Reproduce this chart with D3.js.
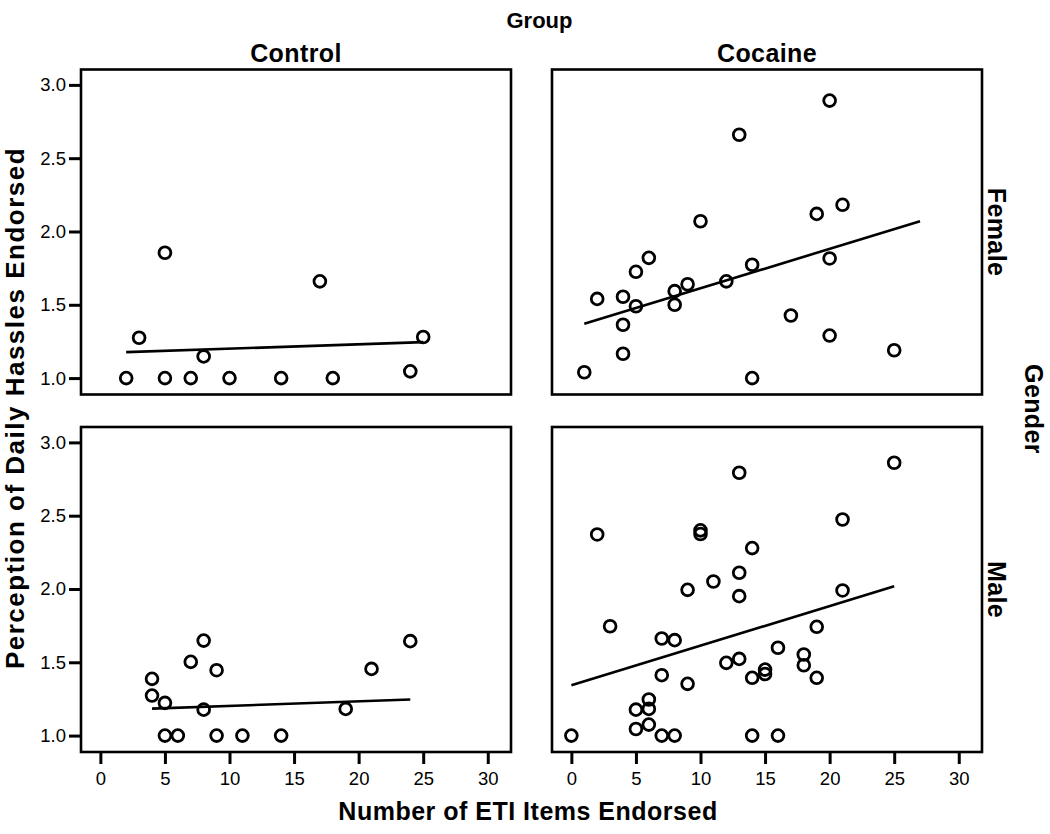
<!DOCTYPE html>
<html>
<head>
<meta charset="utf-8">
<script src="https://cdn.jsdelivr.net/npm/d3@7"></script>
<style>
  html, body { margin: 0; padding: 0; background: #fff; }
  svg { display: block; font-family: "Liberation Sans", Arial, Helvetica, sans-serif; }
  .ttl { font-weight: bold; fill: #000; }
  .tick text { font-size: 18.5px; fill: #000; font-family: "Liberation Sans", Arial, sans-serif; }
  .tick line { stroke: #000; stroke-width: 3; }
</style>
</head>
<body>
<script>
// ---------- data ----------
const groups = ["Control", "Cocaine"];
const genders = ["Female", "Male"];
const xTicks = [0, 5, 10, 15, 20, 25, 30];
const yTicks = [1.0, 1.5, 2.0, 2.5, 3.0];

const ctrlFemaleX = [2, 3, 5, 5, 7, 8, 10, 14, 17, 18, 24, 25];
const ctrlFemaleY = [1.00, 1.275, 1.855, 1.00, 1.00, 1.148, 1.00, 1.00, 1.66, 1.00, 1.046, 1.28];

const cocFemaleX = [1, 2, 4, 4, 4, 5, 5, 6, 8, 8, 9, 10, 12, 13, 14, 14, 17, 19, 20, 20, 20, 21, 25];
const cocFemaleY = [1.04, 1.54, 1.555, 1.364, 1.166, 1.49, 1.725, 1.82, 1.593, 1.50, 1.64, 2.07, 1.66, 2.66, 1.773, 1.00, 1.427, 2.12, 2.893, 1.816, 1.29, 2.182, 1.19];

const ctrlMaleX = [4, 4, 5, 5, 6, 7, 8, 8, 9, 9, 11, 14, 19, 21, 24];
const ctrlMaleY = [1.387, 1.273, 1.223, 1.00, 1.00, 1.503, 1.648, 1.177, 1.446, 1.00, 1.00, 1.00, 1.182, 1.455, 1.644];

const cocMaleX = [0, 2, 3, 5, 5, 6, 6, 6, 7, 7, 7, 8, 8, 9, 9, 10, 10, 11, 12, 13, 13, 13, 13, 14, 14, 14, 15, 15, 16, 16, 18, 18, 19, 19, 21, 21, 25];
const cocMaleY = [1.00, 2.372, 1.746, 1.177, 1.045, 1.246, 1.182, 1.075, 1.662, 1.412, 1.00, 1.651, 1.00, 1.994, 1.353, 2.40, 2.375, 2.051, 1.496, 2.793, 2.111, 1.951, 1.523, 2.279, 1.394, 1.00, 1.45, 1.42, 1.599, 1.00, 1.553, 1.48, 1.742, 1.394, 2.474, 1.99, 2.861];

// fit line end points [x1, y1, x2, y2]
const ctrlFemaleFit = [2, 1.177, 25, 1.245];
const cocFemaleFit = [1, 1.37, 27, 2.07];
const ctrlMaleFit = [4, 1.184, 24, 1.246];
const cocMaleFit = [0, 1.343, 25, 2.019];

// ---------- layout ----------
const W = 1050, H = 834;
const colX = [81, 552];
const rowY = [69.5, 427];
const pw = 430, ph = 325;

const panels = [
  { r: 0, c: 0, xs: ctrlFemaleX, ys: ctrlFemaleY, fit: ctrlFemaleFit },
  { r: 0, c: 1, xs: cocFemaleX, ys: cocFemaleY, fit: cocFemaleFit },
  { r: 1, c: 0, xs: ctrlMaleX, ys: ctrlMaleY, fit: ctrlMaleFit },
  { r: 1, c: 1, xs: cocMaleX, ys: cocMaleY, fit: cocMaleFit }
];

const x = d3.scaleLinear().domain([-1.5, 31.8]).range([0, pw]);
const y = d3.scaleLinear().domain([0.888, 3.105]).range([ph, 0]);

const svg = d3.select("body").append("svg").attr("width", W).attr("height", H);
svg.append("rect").attr("width", W).attr("height", H).attr("fill", "#fff");

panels.forEach(p => {
  const g = svg.append("g").attr("transform", `translate(${colX[p.c]},${rowY[p.r]})`);

  if (p.c === 0) {
    const ax = g.append("g").call(
      d3.axisLeft(y).tickValues(yTicks).tickFormat(d3.format(".1f")).tickSize(12).tickPadding(3)
    );
    ax.select(".domain").remove();
  }
  if (p.r === 1) {
    const ax = g.append("g").attr("transform", `translate(0,${ph})`).call(
      d3.axisBottom(x).tickValues(xTicks).tickFormat(d3.format("d")).tickSize(12).tickPadding(8)
    );
    ax.select(".domain").remove();
  }

  g.append("rect").attr("x", 0).attr("y", 0).attr("width", pw).attr("height", ph)
    .attr("fill", "none").attr("stroke", "#000").attr("stroke-width", 2.6);

  g.append("line")
    .attr("x1", x(p.fit[0])).attr("y1", y(p.fit[1]))
    .attr("x2", x(p.fit[2])).attr("y2", y(p.fit[3]))
    .attr("stroke", "#000").attr("stroke-width", 2.6);

  g.selectAll("circle.pt").data(p.xs.map((v, i) => [v, p.ys[i]])).enter()
    .append("circle").attr("class", "pt")
    .attr("cx", d => x(d[0])).attr("cy", d => y(d[1])).attr("r", 5.9)
    .attr("fill", "none").attr("stroke", "#000").attr("stroke-width", 2.8);
});

// ---------- titles ----------
svg.append("text").attr("class", "ttl").attr("x", 539.5).attr("y", 28)
  .attr("text-anchor", "middle").style("font-size", "22px").text("Group");

groups.forEach((gname, i) => {
  svg.append("text").attr("class", "ttl").attr("x", colX[i] + pw / 2).attr("y", 61.5)
    .attr("text-anchor", "middle").style("font-size", "25px").style("letter-spacing", "0.4px").text(gname);
});

genders.forEach((gname, i) => {
  svg.append("text").attr("class", "ttl")
    .attr("transform", `translate(988,${rowY[i] + ph / 2}) rotate(90)`)
    .attr("text-anchor", "middle").style("font-size", "25px").style("letter-spacing", "0.4px").text(gname);
});

svg.append("text").attr("class", "ttl")
  .attr("transform", "translate(1025,409) rotate(90)")
  .attr("text-anchor", "middle").style("font-size", "25px").style("letter-spacing", "0.4px").text("Gender");

svg.append("text").attr("class", "ttl")
  .attr("transform", "translate(24,408) rotate(-90)")
  .attr("text-anchor", "middle").style("font-size", "26px").style("letter-spacing", "1.5px")
  .text("Perception of Daily Hassles Endorsed");

svg.append("text").attr("class", "ttl").attr("x", 528).attr("y", 820)
  .attr("text-anchor", "middle").style("font-size", "25px").style("letter-spacing", "0.5px")
  .text("Number of ETI Items Endorsed");
</script>
</body>
</html>
